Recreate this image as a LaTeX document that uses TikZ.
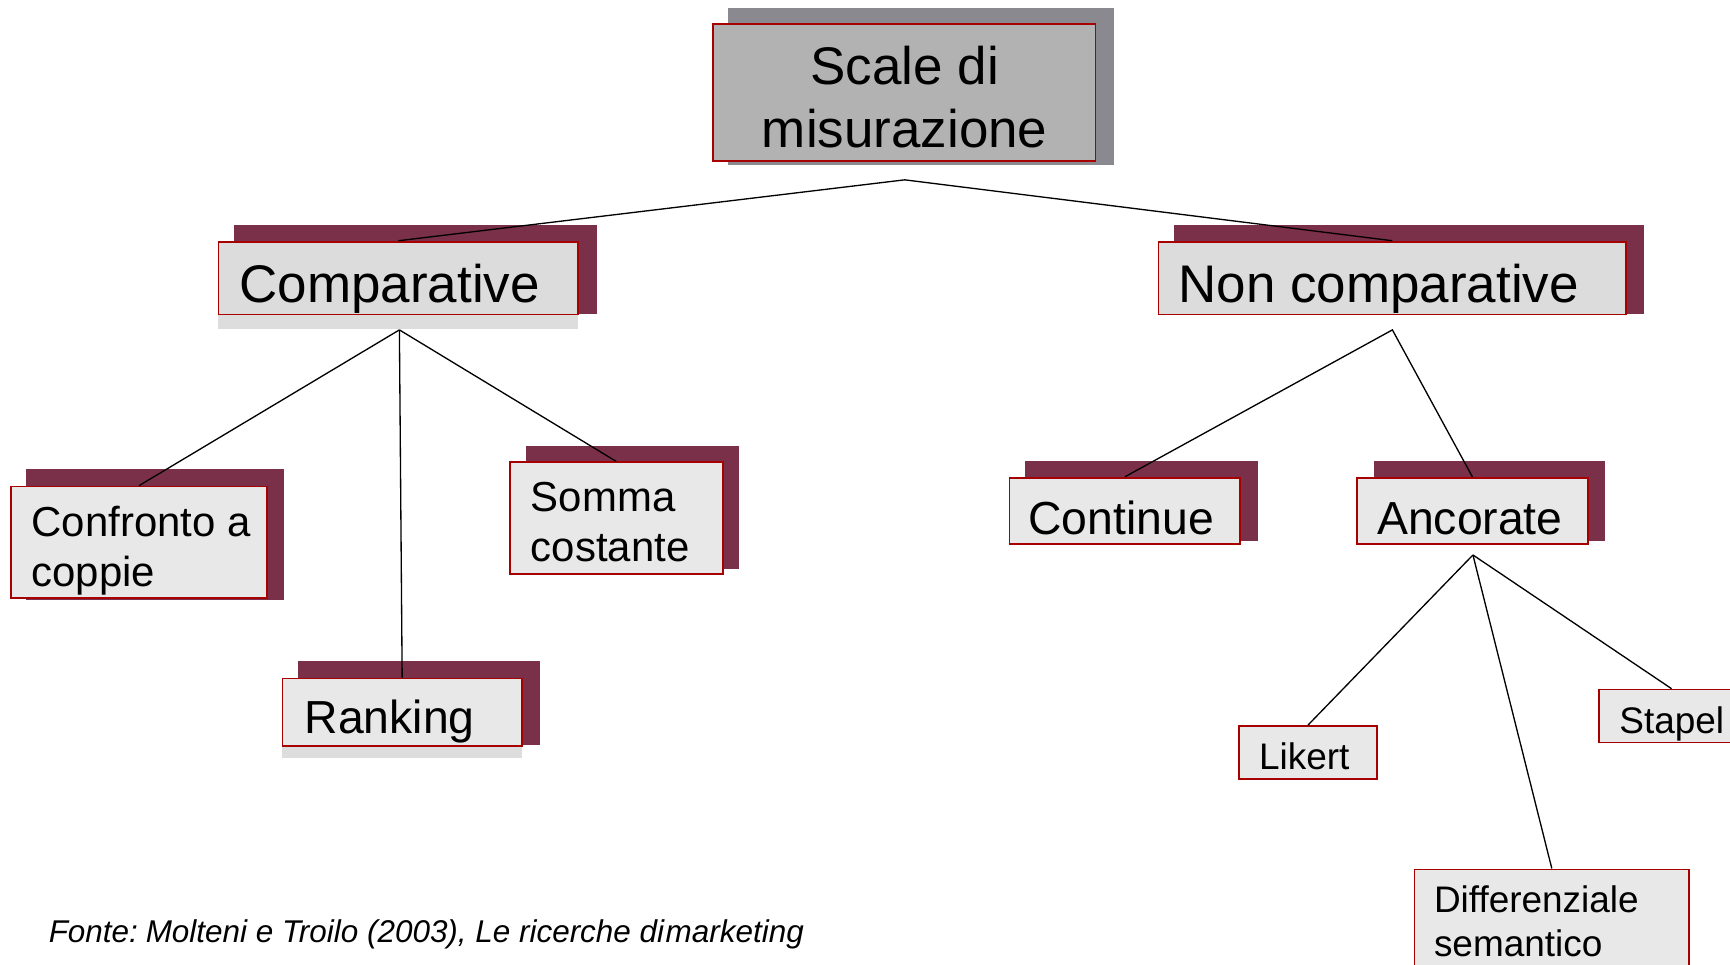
\documentclass[tikz,border=0pt]{standalone}
\usepackage{graphicx}
\usepackage{fontspec}
\setmainfont{Liberation Sans}
\definecolor{shadowmaroon}{RGB}{123,48,73}
\definecolor{shadowgrey}{RGB}{139,137,144}
\definecolor{topfill}{RGB}{178,178,178}
\definecolor{midfill}{RGB}{220,220,220}
\definecolor{lowfill}{RGB}{232,232,232}
\definecolor{stripgrey}{RGB}{221,221,221}
\definecolor{borderred}{RGB}{166,0,0}
\begin{document}
\begin{tikzpicture}[x=1pt,y=-1pt]
\tikzset{
 box/.style={rectangle, draw=borderred, line width=1.6pt, fill=lowfill, inner sep=0pt},
 backrect/.style={fill=shadowmaroon},
 lbl/.style={anchor=base west, inner sep=0pt, text=black},
 link/.style={draw=black, line width=1.2pt},
 fxl/.style={font=\fontsize{48}{56}\selectfont},
 fl/.style={font=\fontsize{42}{50}\selectfont},
 fm/.style={font=\fontsize{38}{46}\selectfont},
 fs/.style={font=\fontsize{33.5}{40}\selectfont},
}
\useasboundingbox (0,0) rectangle (1568,874);
\fill[white] (0,0) rectangle (1568,874);

% back rectangles (shadows)
\fill[shadowgrey] (660,7) rectangle (1010,150);
\fill[backrect] (212,204) rectangle (541,285);
\fill[stripgrey] (198,285) rectangle (524,298);
\fill[backrect] (1064,204) rectangle (1490,285);
\fill[backrect] (24,425) rectangle (257,544);
\fill[backrect] (270,599) rectangle (489,675);
\fill[stripgrey] (256,675) rectangle (473,687);
\fill[backrect] (477,404) rectangle (670,516);
\fill[backrect] (929,418) rectangle (1140,490);
\fill[backrect] (1245,418) rectangle (1455,490);

% boxes
\node[box, fill=topfill, minimum width=347, minimum height=124] (top) at (819.5,84) {};
\node[box, fill=midfill, minimum width=326, minimum height=66] (comp) at (361,252) {};
\node[box, fill=midfill, minimum width=424, minimum height=66] (noncomp) at (1262,252) {};
\node[box, minimum width=232, minimum height=101] (confronto) at (126,491.5) {};
\node[box, minimum width=217, minimum height=61] (ranking) at (364.5,645.5) {};
\node[box, minimum width=193, minimum height=101] (somma) at (558.5,469.5) {};
\node[box, minimum width=209, minimum height=60] (continue) at (1019.5,463) {};
\node[box, minimum width=209, minimum height=60] (ancorate) at (1334.5,463) {};
\node[box, minimum width=125, minimum height=48] (likert) at (1185.5,682) {};
\node[box, minimum width=132, minimum height=48] (stapel) at (1515,649) {};
\node[box, minimum width=249, minimum height=112] (diff) at (1406.5,844) {};

% texts
\node[lbl, fxl, anchor=base] (t-top1) at (820,77) {Scale di};
\node[lbl, fxl, anchor=base] (t-top2) at (820,134) {misurazione};
\node[lbl, fxl] (t-comp) at (217,274) {Comparative};
\node[lbl, fxl] (t-noncomp) at (1068,274) {Non comparative};
\node[lbl, fm] (t-conf1) at (28.5,486) {Confronto a};
\node[lbl, fm] (t-conf2) at (28.5,532) {coppie};
\node[lbl, fl] (t-rank) at (276,665) {Ranking};
\node[lbl, fm] (t-somma1) at (481,464) {Somma};
\node[lbl, fm] (t-somma2) at (481,509) {costante};
\node[lbl, fl] (t-cont) at (932,484) {Continue};
\node[lbl, fl] (t-anc) at (1248,484) {Ancorate};
\node[lbl, fs] (t-lik) at (1141,697.5) {Likert};
\node[lbl, fs] (t-stap) at (1467.5,664.5) {Stapel};
\node[lbl, fs] (t-diff1) at (1299.5,827) {Differenziale};
\node[lbl, fs] (t-diff2) at (1299.5,867) {semantico};
\node[lbl, font=\fontsize{28.5}{34}\selectfont\itshape] (fonte) at (44,854)
  {Fonte:\hspace{0.25em}Molteni e Troilo (2003), Le ricerche di\hspace{0.05em}marketing};

% connectors
\coordinate (j-top) at (820,163);
\coordinate (j-comp) at (362,299);
\coordinate (j-noncomp) at (1262,299);
\coordinate (j-anc) at (1335,503);
\draw[link] (comp.north) -- (j-top) -- (noncomp.north);
\draw[link] (confronto.north) -- (j-comp);
\draw[link] (ranking.north) -- (j-comp);
\draw[link] (somma.north) -- (j-comp);
\draw[link] (continue.north) -- (j-noncomp) -- (ancorate.north);
\draw[link] (likert.north) -- (j-anc);
\draw[link] (diff.north) -- (j-anc);
\draw[link] (stapel.north) -- (j-anc);
\end{tikzpicture}
\end{document}
